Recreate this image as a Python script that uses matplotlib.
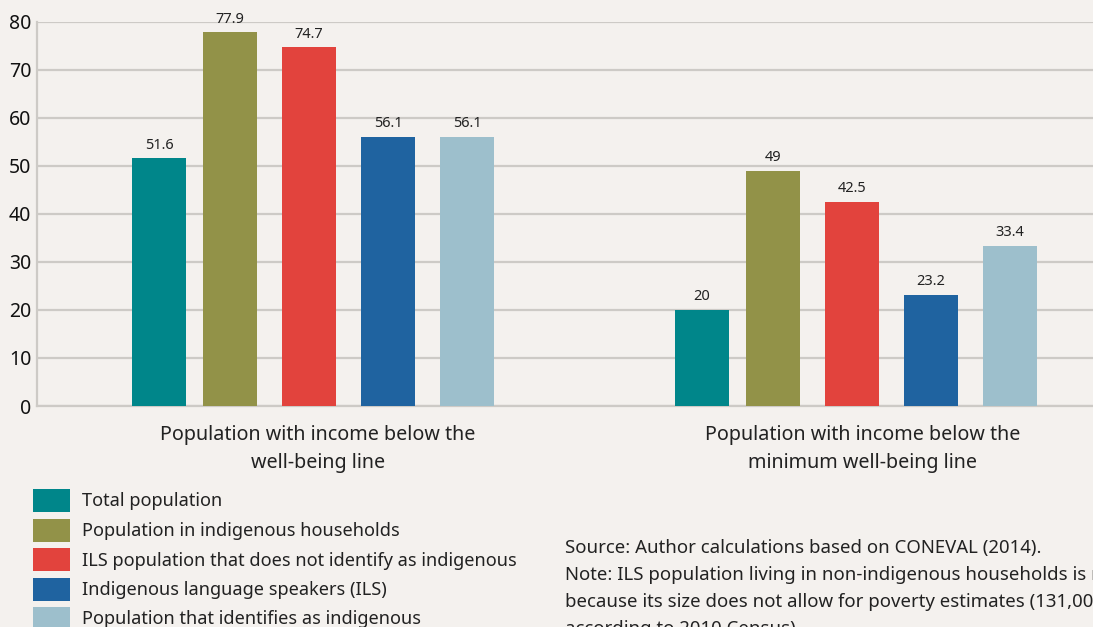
import matplotlib.pyplot as plt
from matplotlib.patches import Rectangle

# data
groups = ["Population with income below the\nwell-being line",
          "Population with income below the\nminimum well-being line"]
series = ["Total population",
          "Population in indigenous households",
          "ILS population that does not identify as indigenous",
          "Indigenous language speakers (ILS)",
          "Population that identifies as indigenous"]
well_being = [51.6, 77.9, 74.7, 56.1, 56.1]
min_well_being = [20, 49, 42.5, 23.2, 33.4]
colors = ["#00868a", "#929248", "#e2433d", "#1f63a0", "#9dbfcc"]
note_lines = ["Source: Author calculations based on CONEVAL (2014).",
              "Note: ILS population living in non-indigenous households is not shown",
              "because its size does not allow for poverty estimates (131,000 people",
              "according to 2010 Census)."]

bg = "#f4f1ee"
grid = "#cdcac6"
txt = "#222222"
plt.rcParams['font.family'] = ['Noto Sans', 'DejaVu Sans']

W, H = 1093, 627
fig = plt.figure(figsize=(W / 100, H / 100), dpi=100, facecolor=bg)
ax = fig.add_axes([37 / W, (H - 406) / H, (W - 37) / W, 384 / H])
ax.set_facecolor(bg)

# bar layout in pixel-like x units
group_start = [159, 702]
offsets = [0, 71, 150, 229, 308]
bar_w = 54

for i in range(len(series)):
    xs = [g + offsets[i] for g in group_start]
    vals = [well_being[i], min_well_being[i]]
    bars = ax.bar(xs, vals, width=bar_w, color=colors[i], zorder=3)
    ax.bar_label(bars, labels=[f"{v:g}" for v in vals], padding=4,
                 fontsize=10.5, color=txt)

ax.set_xlim(37, W)
ax.set_ylim(0, 80)
ax.set_yticks(range(0, 81, 10))
ax.yaxis.grid(True, color=grid, linewidth=1.6, zorder=0)
ax.set_xticks([])
ax.tick_params(axis='y', length=0, pad=4, labelsize=14, labelcolor="#111111")
for s in ["top", "right"]:
    ax.spines[s].set_visible(False)
for s in ["left", "bottom"]:
    ax.spines[s].set_color(grid)
    ax.spines[s].set_linewidth(1.6)

# category labels
for cx, g in zip([318, 863], groups):
    fig.text(cx / W, 1 - 449 / H, g, ha="center", va="center",
             fontsize=14.2, color=txt, linespacing=1.5)

# legend, drawn as swatches + labels
for k, (c, name) in enumerate(zip(colors, series)):
    yc = 500.5 + 29.5 * k
    fig.add_artist(Rectangle((33 / W, 1 - (yc + 11.5) / H), 37 / W, 23 / H,
                             transform=fig.transFigure, facecolor=c,
                             edgecolor="none"))
    fig.text(82 / W, 1 - (yc + 1) / H, name, ha="left", va="center",
             fontsize=13.1, color=txt)

# source notes
for k, line in enumerate(note_lines):
    fig.text(565 / W, 1 - (548 + 27 * k) / H, line, ha="left", va="center",
             fontsize=13.4, color=txt)

fig.savefig("out.png", dpi=100, facecolor=bg)
